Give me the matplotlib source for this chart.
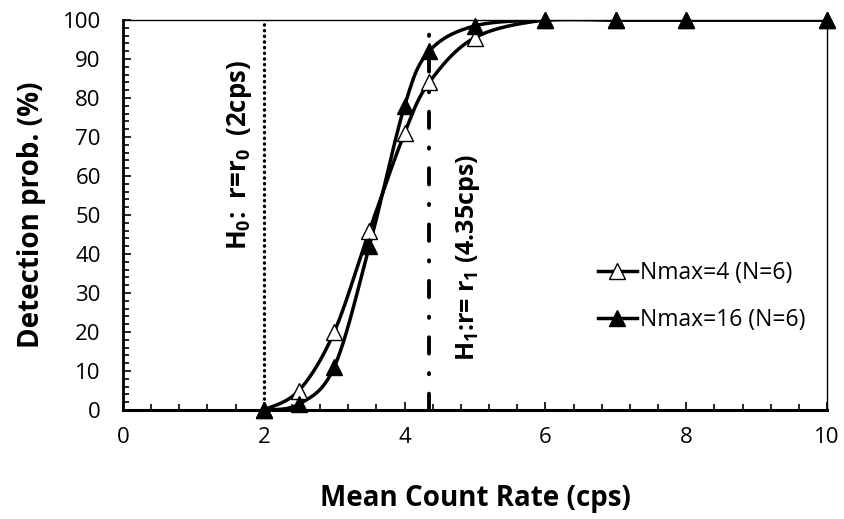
import numpy as np
import matplotlib
matplotlib.use("Agg")
import matplotlib.pyplot as plt
from matplotlib.ticker import MultipleLocator
from matplotlib.lines import Line2D

plt.rcParams['font.family'] = ['Open Sans', 'DejaVu Sans']
plt.rcParams['mathtext.fontset'] = 'custom'
plt.rcParams['mathtext.rm'] = 'Open Sans'
plt.rcParams['mathtext.bf'] = 'Open Sans:bold'

rate = [2, 2.5, 3, 3.5, 4, 4.35, 5, 6, 7, 8, 10]
prob_nmax4 = [0, 5, 20, 46, 71, 84, 95.5, 100, 100, 100, 100]
prob_nmax16 = [0, 1.5, 11, 42, 78, 92, 98.5, 100, 100, 100, 100]
labels = ["Nmax=4 (N=6)", "Nmax=16 (N=6)"]
r0, r1 = 2, 4.35


def smooth(xs, ys, n=30, sx=10.0, sy=100.0):
    x = np.asarray(xs, float) / sx
    y = np.asarray(ys, float) / sy
    P = np.column_stack([x, y])
    P = np.vstack([P[0], P, P[-1]])
    out = []
    t = np.linspace(0, 1, n)[:, None]
    for i in range(1, len(P) - 2):
        p0, p1, p2, p3 = P[i - 1], P[i], P[i + 1], P[i + 2]
        c1 = p1 + (p2 - p0) / 6
        c2 = p2 - (p3 - p1) / 6
        seg = ((1 - t) ** 3) * p1 + 3 * ((1 - t) ** 2) * t * c1 + 3 * (1 - t) * t ** 2 * c2 + t ** 3 * p2
        out.append(seg)
    out = np.vstack(out)
    return out[:, 0] * sx, out[:, 1] * sy


fig = plt.figure(figsize=(8.45, 5.19), dpi=100)
ax = fig.add_axes([123 / 845, 1 - 410 / 519, (827 - 123) / 845, (410 - 20) / 519])

ax.axvline(r0, color='black', lw=2.4, linestyle=(0, (0.1, 1.6)), dash_capstyle='round', zorder=2)
ax.axvline(r1, color='black', lw=2.8, linestyle=(0, (4.2, 5.0, 0.3, 5.0)), dash_capstyle='round', zorder=2)

sx4, sy4 = smooth(rate, prob_nmax4)
sx16, sy16 = smooth(rate, prob_nmax16)
ax.plot(sx4, sy4, color='black', lw=2.5, zorder=3)
ax.plot(sx16, sy16, color='black', lw=2.5, zorder=3)
ax.plot(rate, prob_nmax4, linestyle='none', marker='^', ms=11, mfc='white', mec='black', mew=1.0,
        zorder=4, clip_on=False)
ax.plot(rate, prob_nmax16, linestyle='none', marker='^', ms=11, mfc='black', mec='black',
        zorder=5, clip_on=False)

ax.set_xlim(0, 10)
ax.set_ylim(0, 100)
ax.xaxis.set_major_locator(MultipleLocator(2))
ax.xaxis.set_minor_locator(MultipleLocator(0.4))
ax.yaxis.set_major_locator(MultipleLocator(10))
ax.yaxis.set_minor_locator(MultipleLocator(2))
ax.tick_params(which='both', direction='in', top=False, right=False, width=1.2)
ax.tick_params(which='major', length=6, labelsize=16)
ax.tick_params(which='minor', length=4)
ax.tick_params(axis='x', which='major', pad=12)
ax.tick_params(axis='y', which='major', pad=16)
ax.spines['left'].set_linewidth(2)
ax.spines['bottom'].set_linewidth(2.2)
ax.spines['top'].set_linewidth(1)
ax.spines['right'].set_linewidth(1)

ax.set_xlabel("Mean Count Rate (cps)", fontsize=20, fontweight='bold', labelpad=26)
ax.set_ylabel("Detection prob. (%)", fontsize=20, fontweight='bold', labelpad=12)

ax.text(1.66, 65.5, r"H$_\mathbf{0}$:  r=r$_\mathbf{0}$  (2cps)", rotation=90, fontsize=18.5,
        fontweight='bold', ha='center', va='center')
ax.text(4.9, 39, r"H$_\mathbf{1}$:r= r$_\mathbf{1}$ (4.35cps)", rotation=90, fontsize=18,
        fontweight='bold', ha='center', va='center')

h1 = Line2D([], [], color='black', lw=2.5, marker='^', ms=11, mfc='white', mec='black', mew=1.0)
h2 = Line2D([], [], color='black', lw=2.5, marker='^', ms=11, mfc='black', mec='black')
leg = ax.legend([h1, h2], labels, loc='center left', bbox_to_anchor=(0.645, 0.292),
                frameon=False, fontsize=16.5, handlelength=1.7, handletextpad=0.15,
                labelspacing=1.0)

fig.savefig("out.png", dpi=100)
